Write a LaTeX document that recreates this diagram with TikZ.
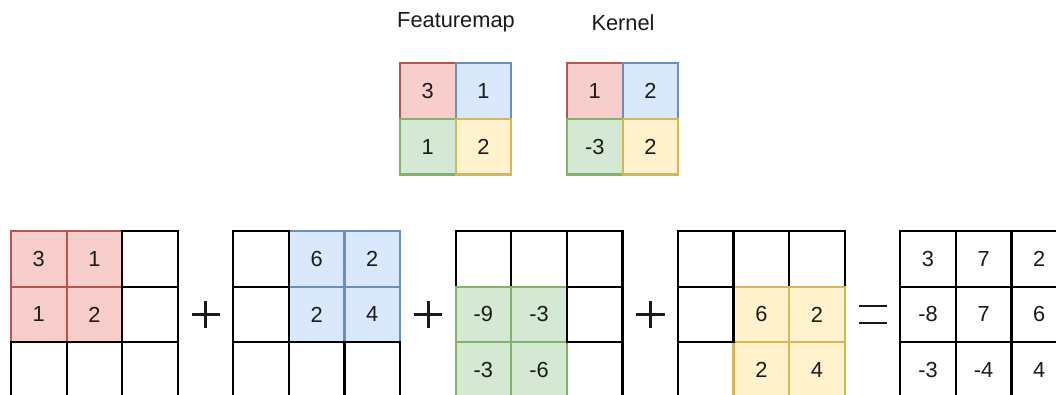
\documentclass[tikz,border=0pt]{standalone}
\usepackage{fontspec}
\setmainfont{Liberation Sans}
\definecolor{redF}{HTML}{F8CECC}\definecolor{redD}{HTML}{B85450}
\definecolor{bluF}{HTML}{DAE8FC}\definecolor{bluD}{HTML}{6C8EBF}
\definecolor{grnF}{HTML}{D5E8D4}\definecolor{grnD}{HTML}{82B366}
\definecolor{yelF}{HTML}{FFF2CC}\definecolor{yelD}{HTML}{D6B656}
\definecolor{txt}{HTML}{1A1A1A}
\tikzset{
  cell/.style={draw=black, fill=white, line width=2.2pt, minimum size=55.6pt, inner sep=0pt,
    text=txt, font=\fontsize{21.8}{26}\selectfont},
  rc/.style={cell, draw=redD, fill=redF},
  bc/.style={cell, draw=bluD, fill=bluF},
  gc/.style={cell, draw=grnD, fill=grnF},
  yc/.style={cell, draw=yelD, fill=yelF},
  lbl/.style={text=txt, font=\fontsize{21.8}{26}\selectfont, inner sep=0pt},
  sym/.style={line width=2.8pt, draw=black!90},
}
\begin{document}
\begin{tikzpicture}[x=1pt,y=-1pt]
\clip (0,0) rectangle (1056,394);
\fill[white] (0,0) rectangle (1056,394);
% labels
\node[lbl] (lfm) at (456,22.5) {Featuremap};
\node[lbl] (lk) at (623,22.5) {Kernel};
% featuremap
\begin{scope}[shift={(400,63.3)}]
\node[rc] (f11) at (27.8,27.8) {3};
\node[bc] (f12) at (83.4,27.8) {1};
\node[gc] (f21) at (27.8,83.4) {1};
\node[yc] (f22) at (83.4,83.4) {2};
\end{scope}
% kernel
\begin{scope}[shift={(567,63.3)}]
\node[rc] (k11) at (27.8,27.8) {1};
\node[bc] (k12) at (83.4,27.8) {2};
\node[gc] (k21) at (27.8,83.4) {-3};
\node[yc] (k22) at (83.4,83.4) {2};
\end{scope}
% grid 1
\begin{scope}[shift={(11,231)}]
\node[rc] (a11) at (27.8,27.8) {3};
\node[rc] (a12) at (83.4,27.8) {1};
\node[rc] (a21) at (27.8,83.4) {1};
\node[rc] (a22) at (83.4,83.4) {2};
\node[cell] (a13) at (139,27.8) {};
\node[cell] (a23) at (139,83.4) {};
\node[cell] (a31) at (27.8,139) {};
\node[cell] (a32) at (83.4,139) {};
\node[cell] (a33) at (139,139) {};
\end{scope}
% grid 2
\begin{scope}[shift={(233.3,231)}]
\node[bc] (b12) at (83.4,27.8) {6};
\node[bc] (b13) at (139,27.8) {2};
\node[bc] (b22) at (83.4,83.4) {2};
\node[bc] (b23) at (139,83.4) {4};
\node[cell] (b11) at (27.8,27.8) {};
\node[cell] (b21) at (27.8,83.4) {};
\node[cell] (b31) at (27.8,139) {};
\node[cell] (b32) at (83.4,139) {};
\node[cell] (b33) at (139,139) {};
\end{scope}
% grid 3
\begin{scope}[shift={(455.6,231)}]
\node[cell] (c11) at (27.8,27.8) {};
\node[cell] (c12) at (83.4,27.8) {};
\node[cell] (c13) at (139,27.8) {};
\node[cell] (c33) at (139,139) {};
\node[gc] (c21) at (27.8,83.4) {-9};
\node[gc] (c22) at (83.4,83.4) {-3};
\node[gc] (c31) at (27.8,139) {-3};
\node[gc] (c32) at (83.4,139) {-6};
\node[cell] (c23) at (139,83.4) {};
\end{scope}
% grid 4
\begin{scope}[shift={(677.9,231)}]
\node[cell] (d11) at (27.8,27.8) {};
\node[cell] (d12) at (83.4,27.8) {};
\node[cell] (d13) at (139,27.8) {};
\node[cell] (d31) at (27.8,139) {};
\node[yc] (d22) at (83.4,83.4) {6};
\node[yc] (d23) at (139,83.4) {2};
\node[yc] (d32) at (83.4,139) {2};
\node[yc] (d33) at (139,139) {4};
\node[cell] (d21) at (27.8,83.4) {};
\end{scope}
% grid 5
\begin{scope}[shift={(900.2,231)}]
\node[cell] (e11) at (27.8,27.8) {3};
\node[cell] (e12) at (83.4,27.8) {7};
\node[cell] (e13) at (139,27.8) {2};
\node[cell] (e21) at (27.8,83.4) {-8};
\node[cell] (e22) at (83.4,83.4) {7};
\node[cell] (e23) at (139,83.4) {6};
\node[cell] (e31) at (27.8,139) {-3};
\node[cell] (e32) at (83.4,139) {-4};
\node[cell] (e33) at (139,139) {4};
\end{scope}
% operators
\foreach \cx in {205.8,428.1,650.6}{
  \draw[sym] (\cx-14.2,314.5) -- (\cx+14.2,314.5);
  \draw[sym] (\cx,300.8) -- (\cx,328.2);
}
\draw[sym] (859,306) -- (887,306);
\draw[sym] (859,323) -- (887,323);
\end{tikzpicture}
\end{document}
